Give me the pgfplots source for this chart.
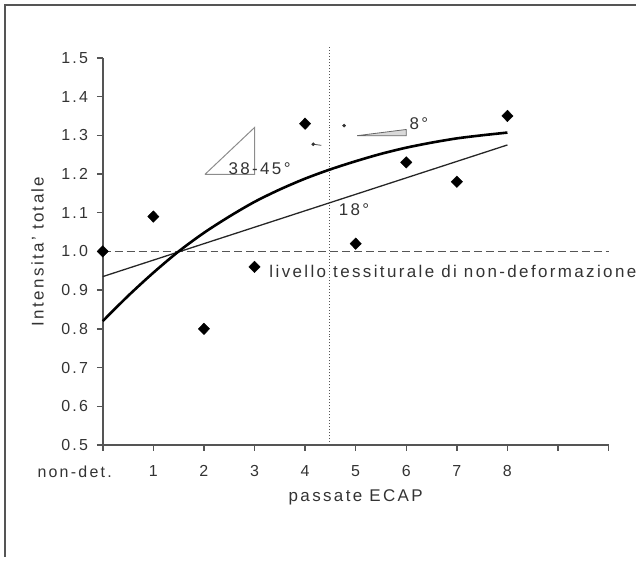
\documentclass[border=0pt]{standalone}
\usepackage{fontspec}
\setmainfont{Liberation Sans}[LetterSpace=14]
\usepackage{pgfplots}
\pgfplotsset{compat=1.18}
\definecolor{axgray}{HTML}{555555}
\definecolor{txtgray}{HTML}{333333}
\begin{document}
\fontsize{17bp}{20bp}\selectfont
\begin{tikzpicture}
\begin{axis}[
    scale only axis,
    width=507bp, height=388bp,
    xmin=0, xmax=10,
    ymin=0.5, ymax=1.5,
    axis x line*=bottom,
    axis y line*=left,
    axis line style={axgray, line width=2bp, -},
    tick style={axgray, line width=1.5bp},
    tick align=outside,
    major tick length=6bp,
    xtick={0,1,2,3,4,5,6,7,8,9,10},
    xticklabels={\makebox[0pt][r]{non-det.\kern-9bp},1,2,3,4,5,6,7,8,,},
    ytick={0.5,0.6,0.7,0.8,0.9,1.0,1.1,1.2,1.3,1.4,1.5},
    yticklabel style={xshift=-3bp, /pgf/number format/.cd, fixed, fixed zerofill, precision=1},
    /pgf/number format/assume math mode=true,
    ticklabel style={text=txtgray, font=\fontsize{16bp}{19bp}\selectfont},
    xticklabel style={yshift=-9bp},
    xlabel={passate ECAP},
    ylabel={Intensita' totale},
    label style={text=txtgray},
    xlabel style={yshift=-1bp},
    ylabel style={yshift=6bp},
    clip=false,
]
% reference lines
\addplot[axgray, line width=1bp, dash pattern=on 8bp off 4bp] coordinates {(0,1.0) (10,1.0)};
\addplot[axgray, line width=1bp, dotted] coordinates {(4.48,0.5) (4.48,1.53)};

% linear fit (18 deg)
\addplot[black!85, line width=1.3bp] coordinates {(0,0.935) (8,1.275)};

% saturating fit
\addplot[black, line width=2.6bp, smooth] coordinates {
(0,0.82) (0.5,0.885) (1,0.945) (1.5,1.0) (2,1.048) (2.5,1.09) (3,1.128)
(3.5,1.16) (4,1.188) (4.5,1.212) (5,1.233) (5.5,1.252) (6,1.268)
(6.5,1.281) (7,1.292) (7.5,1.300) (8,1.307)};

% measurements
\addplot[only marks, mark=diamond*, mark size=5.8bp, mark options={xscale=1.3}, black] coordinates {
(0,1.0) (1,1.09) (2,0.80) (3,0.96) (4,1.33) (5,1.02) (6,1.23) (7,1.18) (8,1.35)};

% small marks
\addplot[only marks, mark=*, mark size=1.6bp, black!80] coordinates {(4.77,1.325) (4.16,1.277)};
\addplot[black!70, line width=0.8bp] coordinates {(4.16,1.277) (4.32,1.274)};

% angle annotations
\addplot[black!45, line width=1bp] coordinates {(2.02,1.199) (3.0,1.32) (3.0,1.199) (2.02,1.199)};
\addplot[black!60, fill=black!15, line width=0.8bp] coordinates {(5.03,1.299) (6.0,1.299) (6.0,1.315) (5.03,1.299)};

\node[txtgray, anchor=center] at (axis cs:3.1,1.215) {38-45°};
\node[txtgray, anchor=west] at (axis cs:5.95,1.33) {8°};
\node[txtgray, anchor=west] at (axis cs:4.55,1.108) {18°};
\node[txtgray, anchor=west] at (axis cs:3.18,0.947) {livello tessiturale di non-deformazione};
\end{axis}
\draw[axgray, line width=1.5bp] (-98bp,-112bp) -- (-98bp,441bp) -- (534bp,441bp);
\path[use as bounding box] (-103bp,-117bp) rectangle (539bp,446bp);
\end{tikzpicture}
\end{document}
